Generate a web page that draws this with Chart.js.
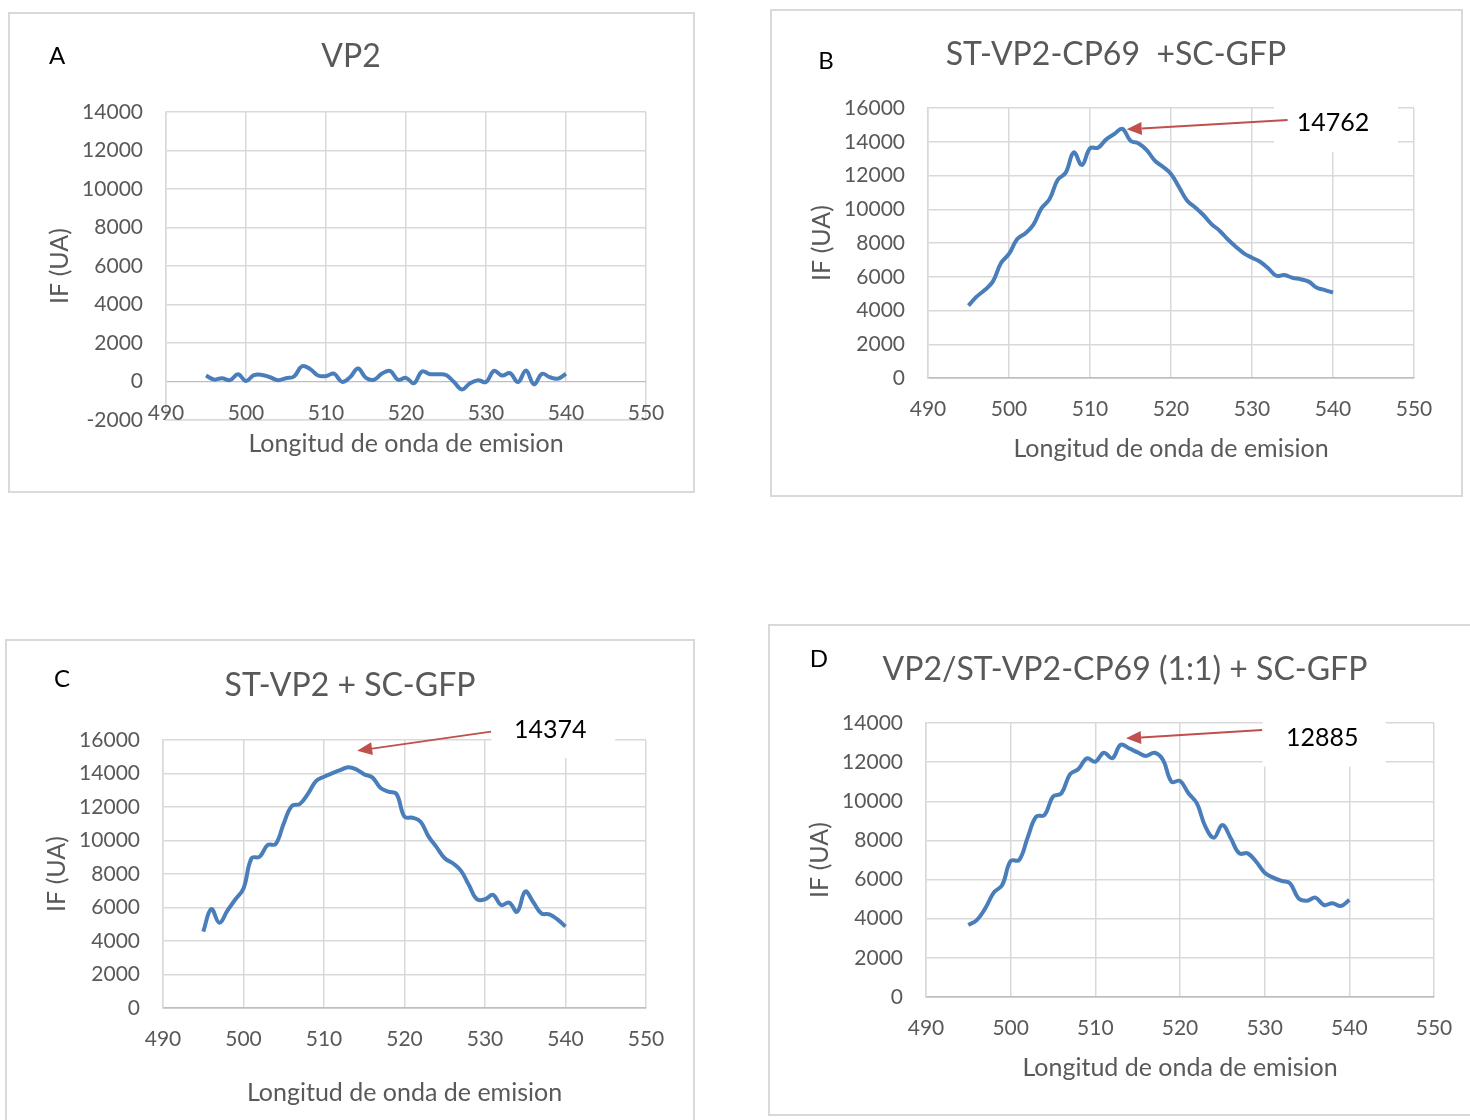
<!DOCTYPE html>
<html>
<head>
<meta charset="utf-8">
<title>Espectros de emision</title>
<script src="https://cdn.jsdelivr.net/npm/chart.js@4.4.1/dist/chart.umd.min.js"></script>
<style>
  html, body { margin: 0; padding: 0; background: #fff; }
  body { position: relative; width: 1470px; height: 1120px; overflow: hidden; font-family: Lato, sans-serif; }
  .frame { position: absolute; border: 2px solid #d9d9d9; box-sizing: border-box; }
  canvas { position: absolute; }
  .tag { position: absolute; transform: translate(-50%, -50%); font-size: 24px; color: #000; line-height: 1; }
</style>
</head>
<body>
<div class="frame" style="left:8px;top:12px;width:687px;height:481px"></div>
<div class="frame" style="left:770px;top:9px;width:693px;height:488px"></div>
<div class="frame" style="left:5px;top:639px;width:690px;height:500px"></div>
<div class="frame" style="left:768px;top:624px;width:720px;height:492px"></div>

<canvas id="chartA" width="684" height="447" style="left:9px;top:13px"></canvas>
<canvas id="chartB" width="690" height="458" style="left:771px;top:10px"></canvas>
<canvas id="chartC" width="688" height="468" style="left:6px;top:640px"></canvas>
<canvas id="chartD" width="712" height="462" style="left:769px;top:625px"></canvas>

<div class="tag" style="left:57px;top:55px">A</div>
<div class="tag" style="left:826px;top:60px">B</div>
<div class="tag" style="left:62px;top:678px">C</div>
<div class="tag" style="left:819px;top:658px">D</div>

<script>
// Emission wavelengths (nm)
const wavelengths = [495, 496, 497, 498, 499, 500, 501, 502, 503, 504, 505, 506, 507, 508, 509, 510,
  511, 512, 513, 514, 515, 516, 517, 518, 519, 520, 521, 522, 523, 524, 525, 526, 527, 528, 529, 530,
  531, 532, 533, 534, 535, 536, 537, 538, 539, 540];

// Fluorescence intensity (UA) for each sample
const ifVP2 = [310, 100, 170, 70, 380, 30, 330, 340, 220, 70, 170, 260, 790, 650, 310, 280,
  410, -20, 220, 670, 190, 90, 410, 550, 90, 190, -90, 520, 380, 380, 340, -30, -410, -90, 70, -30,
  550, 310, 430, -30, 570, -150, 400, 220, 150, 400];

const ifSTVP2CP69 = [4290, 4820, 5210, 5710, 6800, 7350, 8220, 8570, 9070, 10050, 10600, 11730, 12170, 13370, 12620, 13610,
  13650, 14140, 14460, 14762, 14060, 13900, 13510, 12880, 12520, 12090, 11300, 10510, 10110, 9660, 9120, 8730, 8220, 7780, 7390, 7130,
  6890, 6500, 6060, 6100, 5940, 5850, 5710, 5350, 5210, 5060];

const ifSTVP2 = [4560, 5910, 5090, 5810, 6490, 7140, 8940, 9030, 9730, 9790, 11020, 12060, 12180, 12780, 13550, 13810,
  14010, 14200, 14374, 14250, 13950, 13770, 13150, 12920, 12780, 11420, 11360, 11120, 10230, 9590, 8940, 8640, 8200, 7340, 6490, 6490,
  6750, 6150, 6290, 5750, 6950, 6310, 5650, 5590, 5290, 4860];

const ifMix = [3680, 3930, 4530, 5330, 5720, 6950, 7000, 8140, 9210, 9300, 10240, 10410, 11380, 11650, 12190, 12020,
  12480, 12200, 12885, 12700, 12500, 12320, 12480, 12110, 11000, 11040, 10410, 9890, 8700, 8140, 8790, 8110, 7340, 7340, 6910, 6350,
  6100, 5930, 5810, 5040, 4920, 5080, 4700, 4790, 4650, 4960];

// Axis ranges
const xRange = [490, 550];
const yRangeA = [-2000, 14000];
const yRangeB = [0, 16000];
const yRangeC = [0, 16000];
const yRangeD = [0, 14000];

// Peak callouts: label anchor and arrow tail, in data units
const noteB = { peakIndex: 19, labelX: 540, labelY: 15100, tailX: 534.4, tailY: 15290 };
const noteC = { peakIndex: 18, labelX: 538.1, labelY: 16600, tailX: 530.75, tailY: 16500 };
const noteD = { peakIndex: 18, labelX: 536.8, labelY: 13230, tailX: 529.7, tailY: 13640 };

const GREY_TEXT = '#595959';
const GRID = '#d9d9d9';
const AXIS = '#bfbfbf';
const LINE_BLUE = '#4a7ebb';
const ARROW_RED = '#c0504d';

Chart.defaults.font.family = 'Lato, sans-serif';

// Draws the value callout: white box, label and red arrow pointing at the peak
const peakCallout = {
  id: 'peakCallout',
  afterDatasetsDraw(chart, args, o) {
    if (!o || !o.note) return;
    const { ctx, scales: { x, y } } = chart;
    const ds = chart.data.datasets[0].data;
    const peak = ds[o.note.peakIndex];
    const px = x.getPixelForValue(peak.x), py = y.getPixelForValue(peak.y);
    const lx = x.getPixelForValue(o.note.labelX), ly = y.getPixelForValue(o.note.labelY);
    const tx = x.getPixelForValue(o.note.tailX), ty = y.getPixelForValue(o.note.tailY);
    const hx = px + o.tipDx, hy = py + o.tipDy;
    ctx.save();
    ctx.fillStyle = '#ffffff';
    ctx.fillRect(lx - o.boxW / 2 + o.boxDx, ly - o.boxH / 2 + o.boxDy, o.boxW, o.boxH);
    const ang = Math.atan2(hy - ty, hx - tx);
    const headLen = 15, headHalf = 6.5;
    const bx = hx - headLen * Math.cos(ang), by = hy - headLen * Math.sin(ang);
    ctx.strokeStyle = ARROW_RED;
    ctx.lineWidth = 2;
    ctx.beginPath();
    ctx.moveTo(tx, ty);
    ctx.lineTo(bx, by);
    ctx.stroke();
    ctx.fillStyle = ARROW_RED;
    ctx.beginPath();
    ctx.moveTo(hx, hy);
    ctx.lineTo(bx + headHalf * Math.sin(ang), by - headHalf * Math.cos(ang));
    ctx.lineTo(bx - headHalf * Math.sin(ang), by + headHalf * Math.cos(ang));
    ctx.closePath();
    ctx.fill();
    ctx.fillStyle = '#000000';
    ctx.font = '25px Lato, sans-serif';
    ctx.textAlign = 'center';
    ctx.textBaseline = 'middle';
    ctx.fillText(String(peak.y), lx, ly);
    ctx.restore();
  }
};

// When the value axis goes below zero, vertical gridlines stop at the zero line
const belowZeroBand = {
  id: 'belowZeroBand',
  beforeDatasetsDraw(chart) {
    const { ctx, chartArea: a, scales: { y } } = chart;
    if (y.min >= 0) return;
    const z = y.getPixelForValue(0);
    ctx.save();
    ctx.fillStyle = '#ffffff';
    ctx.fillRect(a.left + 1, z + 1, a.right - a.left - 2, a.bottom - z - 2);
    ctx.restore();
  }
};

function points(values) {
  return wavelengths.map((w, i) => ({ x: w, y: values[i] }));
}

function makePanel(id, p) {
  return new Chart(document.getElementById(id), {
    type: 'line',
    data: {
      datasets: [{
        data: points(p.values),
        borderColor: LINE_BLUE,
        borderWidth: 4,
        pointRadius: 0,
        tension: 0.4,
        fill: false
      }]
    },
    options: {
      responsive: false,
      maintainAspectRatio: false,
      animation: false,
      devicePixelRatio: 1,
      layout: { padding: 0 },
      plugins: {
        legend: { display: false },
        tooltip: { enabled: false },
        title: {
          display: true,
          text: p.title,
          color: GREY_TEXT,
          font: { size: 32, weight: 'normal' },
          padding: { top: p.titleTop, bottom: p.titleBottom }
        },
        peakCallout: p.callout || {}
      },
      scales: {
        x: {
          type: 'linear',
          position: 'bottom',
          min: xRange[0],
          max: xRange[1],
          ticks: {
            stepSize: 10, padding: p.xTickPad, z: 1, mirror: p.xLabelsInside,
            color: GREY_TEXT, font: { size: 21 }, callback: v => String(v)
          },
          grid: { color: GRID, lineWidth: 1.5, drawTicks: false },
          border: { color: p.xBorder, width: 1.5 },
          title: {
            display: true,
            text: 'Longitud de onda de emision',
            color: GREY_TEXT,
            font: { size: 25 },
            padding: { top: 0, bottom: p.xTitlePad }
          },
          afterFit: s => { s.height = p.xHeight; }
        },
        y: {
          type: 'linear',
          position: 'left',
          min: p.yRange[0],
          max: p.yRange[1],
          ticks: { stepSize: 2000, padding: 23, color: GREY_TEXT, font: { size: 21 }, callback: v => String(v) },
          grid: { color: c => (c.tick && c.tick.value === 0 ? AXIS : GRID), lineWidth: 1.5, drawTicks: false },
          border: { color: GRID, width: 1.5 },
          title: {
            display: true,
            text: 'IF (UA)',
            color: GREY_TEXT,
            font: { size: 25 },
            padding: { top: 36, bottom: 0 }
          },
          afterFit: s => { s.width = 157; }
        },
        gutter: {
          type: 'linear',
          position: 'right',
          display: true,
          ticks: { display: false },
          grid: { display: false, drawTicks: false },
          border: { display: false },
          afterFit: s => { s.width = p.rightGap; }
        }
      }
    },
    plugins: [belowZeroBand, peakCallout]
  });
}

makePanel('chartA', {
  title: 'VP2', values: ifVP2, yRange: yRangeA,
  titleTop: 24.8, titleBottom: 35.8, xLabelsInside: true,
  xHeight: 40, xTickPad: -5.6, xTitlePad: 1, xBorder: GRID, rightGap: 47
});

makePanel('chartB', {
  title: 'ST-VP2-CP69  +SC-GFP', values: ifSTVP2CP69, yRange: yRangeB,
  titleTop: 25.8, titleBottom: 33.8, xLabelsInside: false,
  xHeight: 90, xTickPad: 18.4, xTitlePad: 4, xBorder: AXIS, rightGap: 47,
  callout: { note: noteB, tipDx: 4.3, tipDy: 0.4, boxW: 124, boxH: 54, boxDx: 3, boxDy: 2 }
});

makePanel('chartC', {
  title: 'ST-VP2 + SC-GFP', values: ifSTVP2, yRange: yRangeC,
  titleTop: 26.8, titleBottom: 34.8, xLabelsInside: false,
  xHeight: 100, xTickPad: 18.4, xTitlePad: 0, xBorder: AXIS, rightGap: 48,
  callout: { note: noteC, tipDx: 9, tipDy: -16.5, boxW: 124, boxH: 50, boxDx: 3, boxDy: 3 }
});

makePanel('chartD', {
  title: 'VP2/ST-VP2-CP69 (1:1) + SC-GFP', values: ifMix, yRange: yRangeD,
  titleTop: 25.8, titleBottom: 33.8, xLabelsInside: false,
  xHeight: 90, xTickPad: 18.4, xTitlePad: 4, xBorder: AXIS, rightGap: 47,
  callout: { note: noteD, tipDx: 5.3, tipDy: -6.5, boxW: 123, boxH: 57, boxDx: 2, boxDy: 0 }
});
</script>
</body>
</html>
